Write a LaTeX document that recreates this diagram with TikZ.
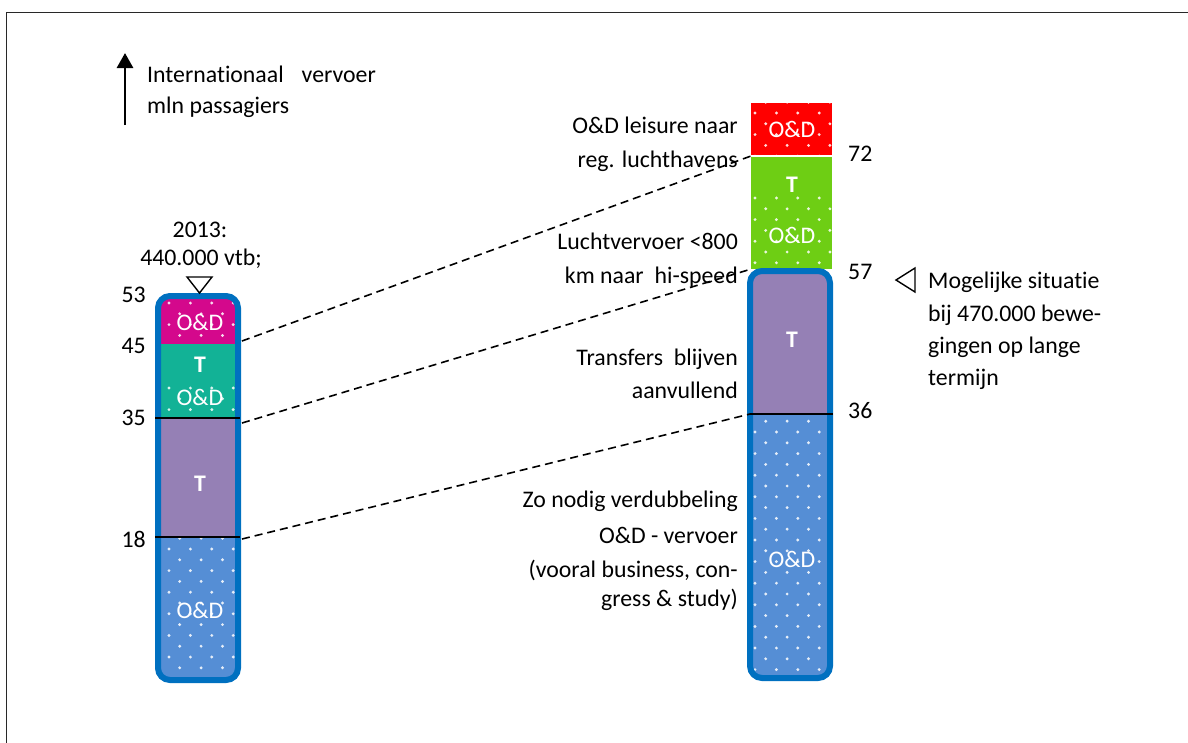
\documentclass[tikz,border=0pt]{standalone}
\usepackage{fontspec}
\setmainfont{Carlito}[Ligatures={NoCommon}]
\usetikzlibrary{arrows.meta}
\definecolor{cbord}{RGB}{0,112,192}
\definecolor{cmag}{RGB}{212,8,140}
\definecolor{cteal}{RGB}{18,178,150}
\definecolor{cpurp}{RGB}{149,128,181}
\definecolor{cblue}{RGB}{85,142,213}
\definecolor{cred}{RGB}{255,0,0}
\definecolor{cgreen}{RGB}{110,206,20}
\definecolor{cframe}{RGB}{40,40,40}
% dotted texture: clip xmin,ymin,xmax,ymax ; lattice origin x0,y0
\newcommand\dotgrid[6]{%
  \begin{scope}
    \clip (#1,#2) rectangle (#3,#4);
    \foreach \r in {-1,...,32}{%
      \foreach \c in {-1,...,4}{%
        \pgfmathsetmacro\xx{#5+\c*21.4+10.7*mod(abs(\r),2)}%
        \pgfmathsetmacro\yy{#6+\r*10.8}%
        \fill[white,opacity=0.85] (\xx,\yy) circle[radius=1.6pt];
      }}
  \end{scope}}
\begin{document}
\begin{tikzpicture}[x=1pt,y=-1pt,
  every node/.style={font=\fontsize{23.8}{28}\selectfont, inner sep=0pt},
  numl/.style={anchor=base east},
  numr/.style={anchor=base west},
  txtr/.style={anchor=base east},
  txtl/.style={anchor=base west},
  inbar/.style={anchor=base, text=white},
  inbarT/.style={anchor=base, text=white, font=\fontsize{23.8}{28}\selectfont\bfseries},
  barborder/.style={draw=cbord, line width=6pt, rounded corners=12pt},
  sepline/.style={draw=black, line width=1.5pt},
  dashln/.style={draw=black, line width=1.6pt, dash pattern=on 8pt off 5pt},
  tri/.style={draw=black, line width=1.4pt, line join=miter}
]
\useasboundingbox (0,0) rectangle (1188,742);
% frame
\draw[cframe, line width=1.5pt] (1190,12.5) -- (6.5,12.5) -- (6.5,745);

% legend arrow
\coordinate (arrB) at (125,125);
\coordinate (arrT) at (125,53);
\draw[line width=2.8pt, -{Triangle[length=15pt,width=16pt]}] (arrB) -- (arrT);
\node[txtl] (leg1) at (147,82) {Internationaal\hspace{18pt}vervoer};
\node[txtl] (leg2) at (147,113) {mln passagiers};

% ---------------- left bar ----------------
\begin{scope}
  \clip[rounded corners=12pt] (158,296) rectangle (238,680);
  \fill[cmag] (150,290) rectangle (245,343.5);
  \fill[cteal] (150,343.5) rectangle (245,418);
  \fill[cpurp] (150,418) rectangle (245,537);
  \fill[cblue] (150,537) rectangle (245,690);
  \dotgrid{150}{298}{245}{343.5}{169}{303}
  \dotgrid{150}{383}{245}{418}{169}{388}
  \dotgrid{150}{537}{245}{690}{169}{549}
\end{scope}
\draw[barborder] (158,296) rectangle (238,680);
\draw[sepline] (155,418) -- (240,418);
\draw[sepline] (155,537) -- (240,537);

\node[inbar] (lOD1) at (200,330) {O\&D};
\node[inbarT] (lT1) at (200,372) {T};
\node[inbar] (lOD2) at (200,405) {O\&D};
\node[inbarT] (lT2) at (200,491) {T};
\node[inbar] (lOD3) at (200,618) {O\&D};

\node[numl] (n53) at (146,302) {53};
\node[numl] (n45) at (146,353) {45};
\node[numl] (n35) at (146,425) {35};
\node[numl] (n18) at (146,547) {18};

\node[anchor=base] (yr) at (200,237) {2013:};
\node[anchor=base] (vtb) at (201,265) {440.000 vtb;};
\draw[tri, fill=white] (187,277) -- (212,277) -- (199.5,293) -- cycle;

% ---------------- right bar ----------------
\fill[cred] (751,103) rectangle (832,155);
\dotgrid{751}{103}{832}{155}{755}{113}
\fill[cgreen] (751,156.5) rectangle (832,269);
\dotgrid{751}{193}{832}{269}{755}{198}
\begin{scope}
  \clip[rounded corners=12pt] (750,271) rectangle (830,678);
  \fill[cpurp] (740,260) rectangle (840,414);
  \fill[cblue] (740,414) rectangle (840,690);
  \dotgrid{740}{414}{840}{690}{755}{432}
\end{scope}
\draw[barborder] (750,271) rectangle (830,678);
\draw[sepline] (750,414) -- (833,414);

\node[inbar] (rOD1) at (792,137) {O\&D};
\node[inbarT] (rT1) at (792,192) {T};
\node[inbar] (rOD2) at (792,243) {O\&D};
\node[inbarT] (rT2) at (792,347) {T};
\node[inbar] (rOD3) at (792,567) {O\&D};

\node[numr] (n72) at (848,161) {72};
\node[numr] (n57) at (848,279) {57};
\node[numr] (n36) at (848,418) {36};

% right description
\draw[tri] (915,268) -- (896,280) -- (915,292) -- cycle;
\node[txtl] (m1) at (928,288) {Mogelijke situatie};
\node[txtl] (m2) at (928,321) {bij 470.000 bewe-};
\node[txtl] (m3) at (928,353) {gingen op lange};
\node[txtl] (m4) at (928,385) {termijn};

% middle labels
\node[txtr] (a1) at (738,133) {O\&D leisure naar};
\node[txtr] (a2) at (738,167) {reg. luchthavens};
\node[txtr] (b1) at (738,249) {Luchtvervoer <800};
\node[txtr] (b2) at (738,283) {km naar\ \ hi-speed};
\node[txtr] (c1) at (738,365) {Transfers\ \ blijven};
\node[txtr] (c2) at (738,398) {aanvullend};
\node[txtr] (d1) at (738,507) {Zo nodig verdubbeling};
\node[txtr] (d2) at (738,543) {O\&D - vervoer};
\node[txtr] (d3) at (738,577) {(vooral business, con-};
\node[txtr] (d4) at (738,606) {gress \& study)};

% dashed connectors
\coordinate (L45) at (242,341);
\coordinate (R72) at (751,156);
\coordinate (L35) at (242,423);
\coordinate (R57) at (748,270);
\coordinate (L18) at (242,539);
\coordinate (R36) at (750,414);
\draw[dashln] (L45) -- (R72);
\draw[dashln] (L35) -- (R57);
\draw[dashln] (L18) -- (R36);
\end{tikzpicture}
\end{document}
